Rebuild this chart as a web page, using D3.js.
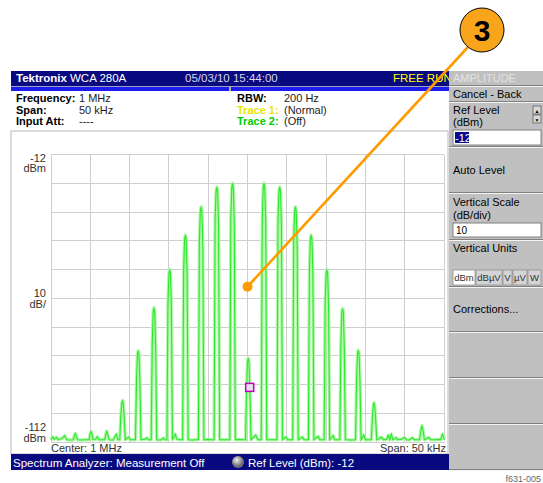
<!DOCTYPE html>
<html><head><meta charset="utf-8">
<script src="https://cdn.jsdelivr.net/npm/d3@7"></script>
<style>
html,body{margin:0;padding:0;background:#fff;}
svg{display:block;font-family:"Liberation Sans",Arial,sans-serif;}
</style></head>
<body>
<svg id="c" width="543" height="483"></svg>
<script>
// ---- data ----
const xDomainKHz = [-25, 25];          // span 50 kHz around 1 MHz
const yDomainDBm = [-112, -12];        // ref level -12 dBm, 10 dB/div
const xGridKHz = [-25,-20,-15,-10,-5,0,5,10,15,20,25];
const yGridDBm = [-12,-22,-32,-42,-52,-62,-72,-82,-92,-102,-112];
const yLabels = [["-12","dBm"],["10","dB/"],["-112","dBm"]];
const infoLeft = [["Frequency:","1 MHz"],["Span:","50 kHz"],["Input Att:","----"]];
const infoRight = [["RBW:","200 Hz","#000"],["Trace 1:","(Normal)","#e6e600"],["Trace 2:","(Off)","#00cc00"]];
const menuItems = ["Cancel - Back","Ref Level","Auto Level","Vertical Scale","Vertical Units","Corrections...","",""];
const unitButtons = ["dBm","dBµV","V","µV","W"];
// trace: [offset kHz, level dBm]
const trace = [
[-25.0,-111.2],[-24.8,-110.2],[-24.6,-111.0],[-24.3,-110.4],[-24.1,-111.2],[-23.6,-110.8],[-23.25,-109.8],[-23.0,-111.2],[-22.4,-111.3],
[-22.15,-111.2],[-22.0,-109.6],[-21.9,-109.0],[-21.8,-109.8],[-21.65,-111.2],
[-21.2,-111.3],[-20.6,-111.2],
[-20.15,-111.2],[-20.0,-109.0],[-19.9,-108.4],[-19.8,-109.2],[-19.65,-111.2],
[-19.3,-111.0],[-19.1,-110.2],[-18.9,-111.2],
[-18.15,-111.2],[-18.0,-109.0],[-17.9,-108.3],[-17.8,-109.3],[-17.6,-111.2],
[-17.1,-111.3],[-16.7,-109.3],[-16.5,-111.2],
[-16.25,-111.2],[-16.12,-103],[-16.0,-98.6],[-15.9,-97.5],[-15.8,-98.8],[-15.68,-104],[-15.55,-111.2],
[-15.1,-110.3],[-14.9,-111.2],
[-14.25,-111.2],[-14.12,-90],[-14.0,-81.5],[-13.9,-80.3],[-13.8,-81.8],[-13.68,-92],[-13.55,-111.2],
[-13.0,-111.0],[-12.8,-110.6],[-12.6,-111.2],
[-12.25,-111.2],[-12.12,-78],[-12.0,-66.8],[-11.9,-65.3],[-11.8,-66.9],[-11.68,-80],[-11.55,-111.2],
[-11.0,-111.3],[-10.7,-110.6],[-10.5,-111.2],
[-10.25,-111.2],[-10.12,-64],[-10.0,-53.5],[-9.9,-52],[-9.8,-53.6],[-9.68,-66],[-9.55,-111.2],
[-9.2,-109.3],[-9.0,-111.0],[-8.6,-111.2],
[-8.25,-111.2],[-8.12,-52],[-8.0,-41.5],[-7.9,-40],[-7.8,-41.6],[-7.68,-54],[-7.55,-111.2],
[-7.0,-111.3],[-6.6,-111.2],
[-6.25,-111.2],[-6.12,-42],[-6.0,-31.7],[-5.9,-30.2],[-5.8,-31.8],[-5.68,-44],[-5.55,-111.2],
[-5.0,-111.1],[-4.6,-111.2],
[-4.25,-111.2],[-4.12,-35],[-4.0,-24.8],[-3.9,-23.3],[-3.8,-24.9],[-3.68,-37],[-3.55,-111.2],
[-3.0,-111.2],[-2.6,-111.2],
[-2.25,-111.2],[-2.12,-34],[-2.0,-23.5],[-1.9,-22],[-1.8,-23.6],[-1.68,-36],[-1.55,-111.2],
[-1.0,-111.1],[-0.6,-111.2],
[-0.25,-111.2],[-0.12,-94],[0.0,-84.2],[0.1,-82.8],[0.2,-84.5],[0.32,-96],[0.45,-111.2],
[0.9,-110.0],[1.05,-109.6],[1.3,-111.2],
[1.75,-111.2],[1.88,-34],[2.0,-23.5],[2.1,-22],[2.2,-23.6],[2.32,-36],[2.45,-111.2],
[3.0,-111.2],[3.3,-111.2],
[3.75,-111.2],[3.88,-35],[4.0,-24.8],[4.1,-23.3],[4.2,-24.9],[4.32,-37],[4.45,-111.2],
[4.9,-110.3],[5.1,-111.2],
[5.75,-111.2],[5.88,-42],[6.0,-31.7],[6.1,-30.2],[6.2,-31.8],[6.32,-44],[6.45,-111.2],
[7.0,-110.3],[7.2,-111.2],
[7.75,-111.2],[7.88,-52],[8.0,-41.5],[8.1,-40],[8.2,-41.6],[8.32,-54],[8.45,-111.2],
[9.0,-110.0],[9.2,-111.2],
[9.75,-111.2],[9.88,-64],[10.0,-53.5],[10.1,-52],[10.2,-53.6],[10.32,-66],[10.45,-111.2],
[10.9,-109.8],[11.1,-111.2],
[11.75,-111.2],[11.88,-78],[12.0,-67.1],[12.1,-65.6],[12.2,-67.2],[12.32,-80],[12.45,-111.2],
[12.7,-111.2],[13.0,-111.3],
[13.75,-111.2],[13.88,-90],[14.0,-81.3],[14.1,-80.1],[14.2,-81.6],[14.32,-92],[14.45,-111.2],
[14.8,-109.6],[15.0,-111.2],
[15.75,-111.2],[15.88,-104],[16.0,-99.4],[16.1,-98.3],[16.2,-99.6],[16.32,-105],[16.45,-111.2],
[16.7,-111.0],[17.0,-110.3],[17.3,-111.2],
[17.7,-111.1],[17.9,-109.7],[18.1,-111.2],[18.3,-109.3],[18.5,-111.2],
[18.9,-110.5],[19.1,-111.2],[19.6,-111.0],[20.0,-110.4],[20.2,-111.2],[20.6,-111.3],
[21.0,-110.5],[21.2,-111.2],
[21.9,-111.2],[22.05,-108],[22.2,-106.3],[22.35,-108.2],[22.5,-111.2],
[23.1,-110.4],[23.3,-111.2],[23.8,-111.2],[24.2,-111.1],[24.6,-111.2],[24.8,-109.3],[24.95,-110.0],[25.0,-111.2]
];
const marker = {kHz: 0.28, dBm: -93};
const callout = {label: "3", targetKHz: 0.0, targetDBm: -58};

// ---- drawing ----
const svg = d3.select("#c");
const navy = "#0a0a80";
const x = d3.scaleLinear().domain(xDomainKHz).range([51, 444]);
const y = d3.scaleLinear().domain(yDomainDBm).range([442, 154.5]);

// plot frame
svg.append("rect").attr("x",11).attr("y",131).attr("width",437).attr("height",323)
  .attr("fill","#fff").attr("stroke","#b8b8b8");

// title bar
svg.append("rect").attr("x",11).attr("y",71).attr("width",438).attr("height",15).attr("fill",navy);
svg.append("rect").attr("x",11).attr("y",86).attr("width",438).attr("height",1).attr("fill","#a0a0c0");
svg.append("rect").attr("x",11).attr("y",87).attr("width",438).attr("height",4).attr("fill","#1c1cf0");
svg.append("rect").attr("x",229).attr("y",86).attr("width",2).attr("height",5).attr("fill","#b0b0b0");
const tb = svg.append("g").attr("font-size",11.5);
tb.append("text").attr("x",16).attr("y",82).attr("fill","#fff").attr("font-weight","bold").text("Tektronix");
tb.append("text").attr("x",70).attr("y",82).attr("fill","#fff").text("WCA 280A");
tb.append("text").attr("x",185).attr("y",82).attr("fill","#d8d8e8").text("05/03/10 15:44:00");
tb.append("text").attr("x",393).attr("y",82).attr("fill","#ffff00").text("FREE RUN");

// info block
const info = svg.append("g").attr("font-size",11);
infoLeft.forEach((d,i)=>{
  info.append("text").attr("x",16).attr("y",102+i*11.5).attr("font-weight","bold").attr("fill","#000").text(d[0]);
  info.append("text").attr("x",79).attr("y",102+i*11.5).attr("fill","#222").text(d[1]);
});
infoRight.forEach((d,i)=>{
  info.append("text").attr("x",237).attr("y",102+i*11.5).attr("font-weight","bold").attr("fill",d[2]).text(d[0]);
  info.append("text").attr("x",284).attr("y",102+i*11.5).attr("fill","#222").text(d[1]);
});

// grid
const grid = svg.append("g");
grid.selectAll(".vg").data(xGridKHz).join("line")
  .attr("x1",d=>x(d)).attr("x2",d=>x(d)).attr("y1",y(-12)).attr("y2",y(-112))
  .attr("stroke","#cfcfcf").attr("stroke-width",1).attr("shape-rendering","crispEdges");
grid.selectAll(".hg").data(yGridDBm).join("line")
  .attr("x1",x(-25)).attr("x2",x(25)).attr("y1",d=>y(d)).attr("y2",d=>y(d))
  .attr("stroke","#cfcfcf").attr("stroke-width",1).attr("shape-rendering","crispEdges");

// y labels
const yl = svg.append("g").attr("font-size",11).attr("fill","#333").attr("text-anchor","end");
[161.5, 297, 431].forEach((yy,i)=>{
  yl.append("text").attr("x",46).attr("y",yy).text(yLabels[i][0]);
  yl.append("text").attr("x",46).attr("y",yy+10.5).text(yLabels[i][1]);
});
svg.append("text").attr("x",51).attr("y",452).attr("font-size",11).attr("fill","#333").text("Center: 1 MHz");
svg.append("text").attr("x",446).attr("y",452).attr("font-size",11).attr("fill","#333").attr("text-anchor","end").text("Span: 50 kHz");

// trace
const line = d3.line().x(d=>x(d[0])).y(d=>y(d[1]));
svg.append("path").datum(trace).attr("d",line).attr("fill","none")
  .attr("stroke","#b0f7a8").attr("stroke-width",3.4).attr("stroke-linejoin","round");
svg.append("path").datum(trace).attr("d",line).attr("fill","none")
  .attr("stroke","#2ee82e").attr("stroke-width",1.1);

// marker
svg.append("rect").attr("x",x(marker.kHz)-4).attr("y",y(marker.dBm)-4).attr("width",8).attr("height",8)
  .attr("fill","#e8e0f0").attr("stroke","#c000c0").attr("stroke-width",1.5);

// status bar
svg.append("rect").attr("x",11).attr("y",454).attr("width",438).attr("height",16).attr("fill",navy);
svg.append("text").attr("x",13).attr("y",466.5).attr("font-size",11.5).attr("fill","#fff").text("Spectrum Analyzer: Measurement Off");
const kg = svg.append("defs").append("radialGradient").attr("id","knob").attr("cx","40%").attr("cy","35%");
kg.append("stop").attr("offset","0%").attr("stop-color","#f0f0f0");
kg.append("stop").attr("offset","100%").attr("stop-color","#707070");
svg.append("circle").attr("cx",238).attr("cy",462).attr("r",6).attr("fill","url(#knob)");
svg.append("text").attr("x",248).attr("y",466.5).attr("font-size",11.5).attr("fill","#fff").text("Ref Level (dBm): -12");

// right menu panel
const px = 449, pw = 94;
svg.append("rect").attr("x",px).attr("y",71).attr("width",pw).attr("height",399).attr("fill","#c0c0c0");
svg.append("text").attr("x",453).attr("y",82).attr("font-size",11).attr("fill","#e4e4e4").text("AMPLITUDE");
const btnEdges = [86,102,147,193,240,287,332,378,424,470];
btnEdges.forEach(e=>{
  svg.append("rect").attr("x",px).attr("y",e-1).attr("width",pw).attr("height",1).attr("fill","#808080");
  svg.append("rect").attr("x",px).attr("y",e).attr("width",pw).attr("height",1).attr("fill","#f4f4f4");
});
const mt = svg.append("g").attr("font-size",11).attr("fill","#000");
mt.append("text").attr("x",453).attr("y",98).text(menuItems[0]);
mt.append("text").attr("x",453).attr("y",114).text(menuItems[1]);
mt.append("text").attr("x",453).attr("y",126).text("(dBm)");
// input box ref
svg.append("rect").attr("x",453).attr("y",130).attr("width",88).attr("height",15).attr("fill","#fff").attr("stroke","#808080");
svg.append("rect").attr("x",455).attr("y",132).attr("width",14).attr("height",11).attr("fill","#0a0a90");
svg.append("text").attr("x",455).attr("y",142).attr("font-size",11).attr("fill","#fff").text("-12");
// spin buttons
[[106,"▲"],[115,"▼"]].forEach(s=>{
  svg.append("rect").attr("x",533).attr("y",s[0]).attr("width",8).attr("height",8).attr("fill","#d8d8d8").attr("stroke","#606060").attr("stroke-width",0.8);
  svg.append("text").attr("x",537).attr("y",s[0]+6.5).attr("font-size",5).attr("text-anchor","middle").attr("fill","#000").text(s[1]);
});
mt.append("text").attr("x",453).attr("y",174).text(menuItems[2]);
mt.append("text").attr("x",453).attr("y",206).text(menuItems[3]);
mt.append("text").attr("x",453).attr("y",219).text("(dB/div)");
svg.append("rect").attr("x",453).attr("y",223).attr("width",88).attr("height",14).attr("fill","#fff").attr("stroke","#808080");
svg.append("text").attr("x",456).attr("y",234).attr("font-size",10).attr("fill","#000").text("10");
mt.append("text").attr("x",453).attr("y",252).text(menuItems[4]);
// unit buttons
const ub = [[453,22],[476,26],[503,9],[513,14],[528,13]];
unitButtons.forEach((u,i)=>{
  svg.append("rect").attr("x",ub[i][0]).attr("y",270).attr("width",ub[i][1]).attr("height",15)
    .attr("fill",i===0?"#fff":"#d4d4d4").attr("stroke","#909090").attr("stroke-width",0.8);
  svg.append("text").attr("x",ub[i][0]+ub[i][1]/2).attr("y",281).attr("font-size",9.5).attr("text-anchor","middle").attr("fill","#333").text(u);
});
mt.append("text").attr("x",453).attr("y",313).text(menuItems[5]);

// callout
const cx = 482, cy = 30;
const tx = x(callout.targetKHz), ty = y(callout.targetDBm);
svg.append("line").attr("x1",tx).attr("y1",ty).attr("x2",cx-14).attr("y2",cy+17)
  .attr("stroke","#ff9a00").attr("stroke-width",2.6);
svg.append("circle").attr("cx",tx).attr("cy",ty).attr("r",5).attr("fill","#ff9a00");
svg.append("circle").attr("cx",cx).attr("cy",cy).attr("r",22).attr("fill","#f9a51c").attr("stroke","#000").attr("stroke-width",1);
svg.append("text").attr("x",cx).attr("y",cy+11).attr("font-size",30).attr("font-weight","bold")
  .attr("text-anchor","middle").attr("fill","#000").text(callout.label);

// figure id
svg.append("text").attr("x",541).attr("y",482).attr("font-size",9).attr("fill","#666").attr("text-anchor","end").text("f631-005");
</script>
</body></html>
